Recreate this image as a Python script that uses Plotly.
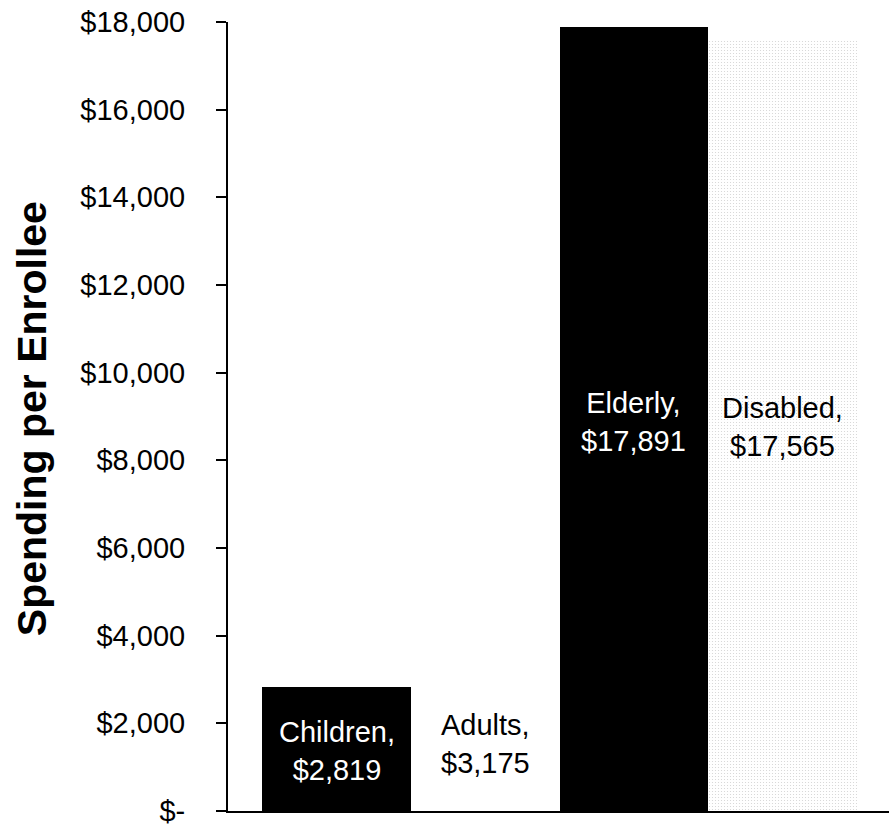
import plotly.graph_objects as go

# Medicaid spending per enrollee by eligibility group
groups = ["Children", "Adults", "Elderly", "Disabled"]
spending = [2819, 3175, 17891, 17565]

bar_colors = ["black", "white", "black", "white"]
label_colors = ["white", "black", "white", "black"]

y_tick_vals = [0, 2000, 4000, 6000, 8000, 10000, 12000, 14000, 16000, 18000]
y_tick_text = ["$-", "$2,000", "$4,000", "$6,000", "$8,000", "$10,000",
               "$12,000", "$14,000", "$16,000", "$18,000"]

FONT = "Liberation Sans, Arial, sans-serif"

# Disabled bar gets a faint stippled fill
patterns = [
    dict(shape=""),
    dict(shape=""),
    dict(shape=""),
    dict(shape=".", fgcolor="#cfcfcf", bgcolor="white", size=3, solidity=0.1,
         fillmode="replace"),
]

fig = go.Figure()
for i, (g, v) in enumerate(zip(groups, spending)):
    fig.add_trace(go.Bar(
        x=[i], y=[v], name=g,
        marker=dict(color=bar_colors[i], line=dict(width=0), pattern=patterns[i]),
        width=1.0,
        hoverinfo="skip",
    ))

# Category labels with values, placed inside/near the bars
label_y = [1370, 1530, 8880, 8760]
for i, (g, v) in enumerate(zip(groups, spending)):
    fig.add_annotation(
        x=i, y=label_y[i], xref="x", yref="y",
        text=f"{g},<br>${v:,}",
        showarrow=False,
        font=dict(family=FONT, size=29, color=label_colors[i]),
        align="center",
    )

# Rotated axis title
fig.add_annotation(
    x=-0.296, y=0.497, xref="paper", yref="paper",
    text="<b>Spending per Enrollee</b>",
    textangle=-90, showarrow=False,
    xanchor="center", yanchor="middle",
    font=dict(family=FONT, size=41, color="black"),
)

fig.update_layout(
    width=889, height=828,
    margin=dict(l=228, r=0, t=22, b=17),
    paper_bgcolor="white", plot_bgcolor="white",
    showlegend=False,
    barmode="overlay",
    bargap=0,
    xaxis=dict(
        range=[-0.73, 3.715],
        showticklabels=False, ticks="",
        showgrid=False, zeroline=False,
        showline=True, linecolor="black", linewidth=2,
    ),
    yaxis=dict(
        range=[0, 18000],
        tickvals=y_tick_vals, ticktext=y_tick_text,
        ticks="outside", ticklen=10, tickwidth=1.5, tickcolor="black",
        ticklabelstandoff=25,
        tickfont=dict(family=FONT, size=29, color="black"),
        showgrid=False, zeroline=False,
        showline=True, linecolor="black", linewidth=2,
    ),
)

fig.write_html("out.html")
